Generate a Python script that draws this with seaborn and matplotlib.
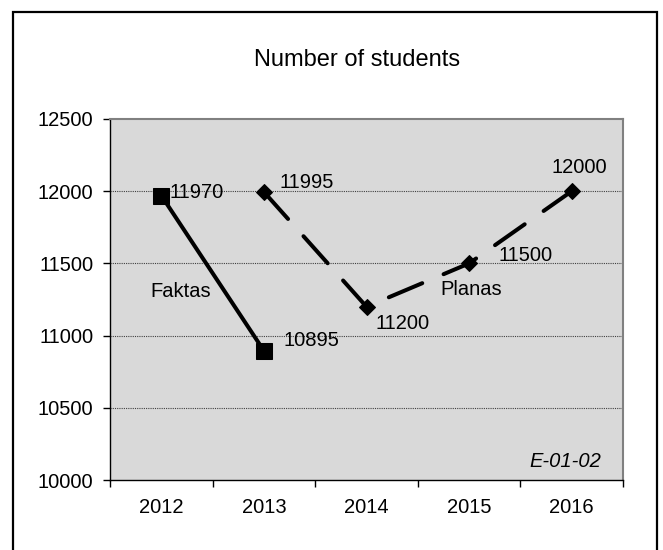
import matplotlib
matplotlib.use("Agg")
import matplotlib.pyplot as plt
import seaborn as sns
from matplotlib.patches import Rectangle

# chart data
years = [2012, 2013, 2014, 2015, 2016]
fakt_years = [2012, 2013]
fakt_values = [11970, 10895]
plan_years = [2013, 2014, 2015, 2016]
plan_values = [11995, 11200, 11500, 12000]
y_ticks = [10000, 10500, 11000, 11500, 12000, 12500]

sns.set_style("white")
plt.rcParams['font.family'] = ['Liberation Sans', 'DejaVu Sans']
plt.rcParams['text.color'] = 'black'
plt.rcParams['xtick.color'] = 'black'
plt.rcParams['ytick.color'] = 'black'

FS = 14.5

fig = plt.figure(figsize=(6.63, 5.5), dpi=100)
ax = fig.add_axes([110 / 663, 70 / 550, 513 / 663, 361 / 550])
ax.set_facecolor('#D9D9D9')

# Faktas: solid line with squares
sns.lineplot(x=fakt_years, y=fakt_values, ax=ax, color='black', lw=2.9,
             marker='s', markersize=11, markeredgecolor='black', zorder=3)
# Planas: dashed line with diamonds
sns.lineplot(x=plan_years, y=plan_values, ax=ax, color='black', lw=2.9,
             linestyle=(0, (9, 5.75)), dash_capstyle='round', marker='D',
             markersize=8, markeredgecolor='black', zorder=3)

ax.set_xlim(2011.5, 2016.5)
ax.set_ylim(10000, 12500)

# value labels (offsets in pixels)
fakt_off = [(8, 3, 'left'), (20, 10, 'left')]
plan_off = [(16, 9, 'left'), (9, -17, 'left'), (29, 8, 'left'), (8, 24, 'center')]
for (x, y), (dx, dy, ha) in zip(zip(fakt_years, fakt_values), fakt_off):
    ax.annotate(str(y), (x, y), xytext=(dx, dy), textcoords='offset pixels',
                ha=ha, va='center', fontsize=FS, zorder=4)
for (x, y), (dx, dy, ha) in zip(zip(plan_years, plan_values), plan_off):
    ax.annotate(str(y), (x, y), xytext=(dx, dy), textcoords='offset pixels',
                ha=ha, va='center', fontsize=FS, zorder=4)

ax.text(2011.89, 11302, 'Faktas', fontsize=FS, va='center', ha='left')
ax.text(2014.72, 11316, 'Planas', fontsize=FS, va='center', ha='left')
ax.text(0.957, 0.05, 'E-01-02', transform=ax.transAxes, fontsize=FS,
        style='italic', ha='right', va='center')

# axes, ticks and grid
ax.set_yticks(y_ticks)
ax.set_yticklabels([str(v) for v in y_ticks])
ax.set_xticks([y - 0.5 for y in years] + [years[-1] + 0.5])
ax.set_xticklabels([])
ax.set_xticks(years, minor=True)
ax.set_xticklabels([str(y) for y in years], minor=True)
ax.tick_params(axis='x', which='major', length=5, width=1, color='black', direction='out', bottom=True)
ax.tick_params(axis='x', which='minor', length=0, pad=13, labelsize=FS)
ax.tick_params(axis='y', length=5, width=1, color='black', direction='out', left=True, pad=7, labelsize=FS)

for yv in y_ticks[1:-1]:
    ax.axhline(yv, color='#404040', lw=0.8, ls=(0, (1, 1)), zorder=1)

ax.spines['left'].set_color('black')
ax.spines['bottom'].set_color('black')
ax.spines['left'].set_linewidth(1.0)
ax.spines['bottom'].set_linewidth(1.0)
ax.spines['top'].set_color('#808080')
ax.spines['right'].set_color('#808080')
ax.spines['top'].set_linewidth(1.5)
ax.spines['right'].set_linewidth(1.5)
for s in ax.spines.values():
    s.set_visible(True)

fig.text(357 / 663, 1 - 60 / 550, 'Number of students', fontsize=17,
         ha='center', va='center')

# outer chart border
fig.patches.append(Rectangle((13 / 663, -0.02), 644 / 663, 1.02 - 12 / 550,
                             transform=fig.transFigure, fill=False,
                             edgecolor='black', lw=1.6))

fig.savefig('out.png', dpi=100)
